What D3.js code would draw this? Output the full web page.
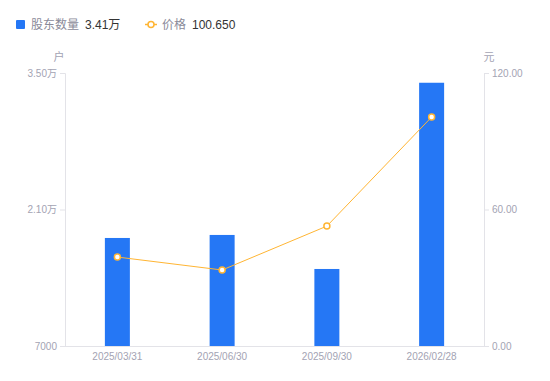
<!DOCTYPE html>
<html>
<head>
<meta charset="utf-8">
<script src="https://cdn.jsdelivr.net/npm/d3@7"></script>
<style>
  body { margin: 0; background: #fff; }
  text { font-family: "Liberation Sans", "Noto Sans CJK SC", sans-serif; }
</style>
</head>
<body>
<script>
// Données
const dates = ['2025/03/31', '2025/06/30', '2025/09/30', '2026/02/28'];
const holders = [18080, 18390, 14900, 34000];
const prices = [39.1, 33.4, 52.7, 100.65];
const leftTicks = [7000, 21000, 35000];
const rightTicks = [0, 60, 120];

const width = 550, height = 381;
const margin = { top: 73, right: 66, bottom: 35, left: 65 };
const font = '"Liberation Sans", "Noto Sans CJK SC", sans-serif';

const svg = d3.select('body').append('svg')
    .attr('width', width)
    .attr('height', height);

const x = d3.scaleBand()
    .domain(dates)
    .range([margin.left, width - margin.right]);

const yLeft = d3.scaleLinear()
    .domain([7000, 35000])
    .range([height - margin.bottom, margin.top]);

const yRight = d3.scaleLinear()
    .domain([0, 120])
    .range([height - margin.bottom, margin.top]);

const axisColor = '#e3e3e8';
const labelColor = '#a3a3b3';

const fmtLeft = v => v >= 10000 ? (v / 10000).toFixed(2) + '万' : String(v);

// Axe gauche
const gLeft = svg.append('g')
    .attr('transform', `translate(${margin.left},0)`)
    .call(d3.axisLeft(yLeft).tickValues(leftTicks).tickFormat(fmtLeft).tickSize(5).tickPadding(3));

// Axe droit
const gRight = svg.append('g')
    .attr('transform', `translate(${width - margin.right},0)`)
    .call(d3.axisRight(yRight).tickValues(rightTicks).tickFormat(d => d.toFixed(2)).tickSize(5).tickPadding(3));

// Axe du bas
const gBottom = svg.append('g')
    .attr('transform', `translate(0,${height - margin.bottom})`)
    .call(d3.axisBottom(x).tickSize(0).tickPadding(7));

[gLeft, gRight, gBottom].forEach(g => {
  g.selectAll('path, line').attr('stroke', axisColor);
  g.selectAll('text')
      .attr('fill', labelColor)
      .style('font-family', font)
      .attr('font-size', 10);
});
gBottom.select('.domain').attr('d', `M${margin.left},0.5H${width - margin.right}`);

// Unités
svg.append('text')
    .attr('x', 59).attr('y', 61)
    .attr('text-anchor', 'middle')
    .attr('font-size', 11)
    .attr('fill', labelColor)
    .text('户');
svg.append('text')
    .attr('x', 489).attr('y', 61)
    .attr('text-anchor', 'middle')
    .attr('font-size', 11)
    .attr('fill', labelColor)
    .text('元');

// Barres
const barWidth = 25;
svg.append('g').selectAll('rect')
    .data(holders)
    .join('rect')
    .attr('x', (d, i) => x(dates[i]) + x.bandwidth() / 2 - barWidth / 2)
    .attr('y', d => yLeft(d))
    .attr('width', barWidth)
    .attr('height', d => yLeft(7000) - yLeft(d))
    .attr('fill', '#2577f5');

// Ligne des prix
const orange = '#ffb533';
const line = d3.line()
    .x((d, i) => x(dates[i]) + x.bandwidth() / 2)
    .y(d => yRight(d));

svg.append('path')
    .datum(prices)
    .attr('d', line)
    .attr('fill', 'none')
    .attr('stroke', orange)
    .attr('stroke-width', 1);

svg.append('g').selectAll('circle')
    .data(prices)
    .join('circle')
    .attr('cx', (d, i) => x(dates[i]) + x.bandwidth() / 2)
    .attr('cy', d => yRight(d))
    .attr('r', 3)
    .attr('fill', '#fff')
    .attr('stroke', orange)
    .attr('stroke-width', 1.5);

// Légende
const legend = svg.append('g');
legend.append('rect')
    .attr('x', 16).attr('y', 20)
    .attr('width', 9).attr('height', 9)
    .attr('rx', 1)
    .attr('fill', '#2577f5');
legend.append('text')
    .attr('x', 31).attr('y', 29)
    .attr('font-size', 12)
    .attr('fill', '#8a8a99')
    .text('股东数量');
legend.append('text')
    .attr('x', 85).attr('y', 29)
    .attr('font-size', 12)
    .attr('fill', '#333')
    .text('3.41万');

legend.append('line')
    .attr('x1', 145).attr('x2', 157)
    .attr('y1', 24.5).attr('y2', 24.5)
    .attr('stroke', orange)
    .attr('stroke-width', 1.5);
legend.append('circle')
    .attr('cx', 151).attr('cy', 24.5)
    .attr('r', 3)
    .attr('fill', '#fff')
    .attr('stroke', orange)
    .attr('stroke-width', 1.5);
legend.append('text')
    .attr('x', 162).attr('y', 29)
    .attr('font-size', 12)
    .attr('fill', '#8a8a99')
    .text('价格');
legend.append('text')
    .attr('x', 192).attr('y', 29)
    .attr('font-size', 12)
    .attr('fill', '#333')
    .text('100.650');
</script>
</body>
</html>
